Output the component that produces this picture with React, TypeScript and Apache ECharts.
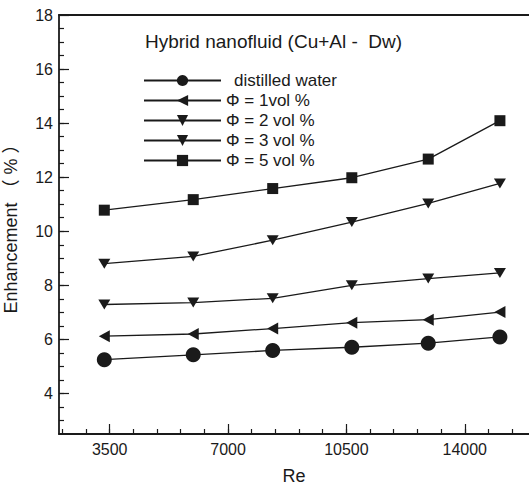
import { useEffect, useRef } from "react";
import * as echarts from "echarts";

// Reynolds numbers of the measured points
const reynolds = [3340, 5970, 8320, 10660, 12920, 15040];

// Enhancement (%) for each fluid
const distilledWater = [5.25, 5.43, 5.59, 5.71, 5.86, 6.09];
const phi1 = [6.12, 6.2, 6.4, 6.62, 6.73, 7.01];
const phi2 = [7.29, 7.36, 7.52, 8.0, 8.25, 8.46];
const phi3 = [8.8, 9.07, 9.67, 10.34, 11.03, 11.77];
const phi5 = [10.78, 11.17, 11.58, 11.98, 12.67, 14.09];

const seriesNames = [
  "distilled water",
  "Φ = 1vol %",
  "Φ = 2 vol %",
  "Φ = 3 vol %",
  "Φ = 5 vol %",
];

const xMajorTicks = [3500, 7000, 10500, 14000];
const yMajorTicks = [4, 6, 8, 10, 12, 14, 16, 18];

const X_MIN = 2000;
const X_MAX = 15900;
const X_MINOR_STEP = 700;
const Y_MIN = 2.5;
const Y_MAX = 18;
const Y_MINOR_STEP = 0.5;

const INK = "#1a1a1a";
const FONT = "'Liberation Sans', Arial, 'Noto Sans CJK SC', sans-serif";

function stepsBetween(min: number, max: number, step: number): number[] {
  const out: number[] = [];
  for (let v = Math.ceil(min / step) * step; v < max; v += step) {
    if (v > min) out.push(Math.round(v * 1000) / 1000);
  }
  return out;
}

const LEFT_TRIANGLE = "path://M0,6L11,0L11,12Z";
const DOWN_TRIANGLE = "path://M0,0L12,0L6,10Z";

export default function App() {
  const ref = useRef<HTMLDivElement>(null);

  useEffect(() => {
    if (!ref.current) return;
    const chart = echarts.init(ref.current, undefined, { renderer: "svg" });

    const xMinor = stepsBetween(X_MIN, X_MAX, X_MINOR_STEP);
    const yMinor = stepsBetween(Y_MIN, Y_MAX, Y_MINOR_STEP);

    const axisLine = { show: true, lineStyle: { color: INK, width: 1.8 } };
    const tickLine = { color: INK, width: 1.2 };
    const labelStyle = { color: INK, fontSize: 16, fontFamily: FONT };

    const values = [distilledWater, phi1, phi2, phi3, phi5];
    const symbols = ["circle", LEFT_TRIANGLE, DOWN_TRIANGLE, DOWN_TRIANGLE, "rect"];
    const sizes: (number | number[])[] = [15, [11, 12], [12, 10], [12, 10], 11];

    const series = values.map((vals, i) => ({
      name: seriesNames[i],
      type: "line",
      xAxisIndex: 0,
      yAxisIndex: 0,
      data: vals.map((v, j) => [reynolds[j], v]),
      symbol: symbols[i],
      symbolSize: sizes[i],
      showAllSymbol: true,
      lineStyle: { color: INK, width: 1.3 },
      itemStyle: { color: INK, borderWidth: 0 },
      z: 3,
    }));

    chart.setOption({
      animation: false,
      backgroundColor: "#ffffff",
      title: {
        text: "Hybrid nanofluid (Cu+Al -  Dw)",
        left: 145,
        top: 32,
        padding: 0,
        textStyle: { color: INK, fontSize: 19, fontWeight: "normal", fontFamily: FONT },
      },
      legend: {
        data: seriesNames.map((n, i) =>
          i === 0 ? { name: n, textStyle: { padding: [0, 0, 0, 8] } } : { name: n }
        ),
        orient: "vertical",
        left: 143,
        top: 72,
        padding: 0,
        itemWidth: 77,
        itemHeight: 14,
        itemGap: 3,
        textStyle: { color: INK, fontSize: 17, fontFamily: FONT },
      },
      grid: {
        left: 59,
        right: 0,
        top: 15,
        bottom: 52,
        containLabel: false,
        outerBoundsMode: "none",
      },
      xAxis: [
        {
          type: "value",
          position: "bottom",
          min: X_MIN,
          max: X_MAX,
          axisLine,
          axisTick: { show: true, inside: true, length: 5, customValues: xMinor, lineStyle: tickLine },
          axisLabel: { show: false },
          splitLine: { show: false },
        },
        {
          type: "value",
          position: "bottom",
          min: X_MIN,
          max: X_MAX,
          axisLine: { show: false },
          axisTick: { show: true, inside: true, length: 10, customValues: xMajorTicks, lineStyle: tickLine },
          axisLabel: {
            ...labelStyle,
            margin: 7,
            customValues: xMajorTicks,
            formatter: (v: number) => String(v),
          },
          splitLine: { show: false },
          name: "Re",
          nameLocation: "middle",
          nameGap: 33,
          nameTextStyle: { color: INK, fontSize: 18, fontFamily: FONT },
        },
        {
          type: "value",
          position: "top",
          min: X_MIN,
          max: X_MAX,
          axisLine,
          axisTick: { show: false },
          axisLabel: { show: false },
          splitLine: { show: false },
        },
      ],
      yAxis: [
        {
          type: "value",
          position: "left",
          min: Y_MIN,
          max: Y_MAX,
          axisLine,
          axisTick: { show: true, inside: true, length: 5, customValues: yMinor, lineStyle: tickLine },
          axisLabel: { show: false },
          splitLine: { show: false },
        },
        {
          type: "value",
          position: "left",
          min: Y_MIN,
          max: Y_MAX,
          axisLine: { show: false },
          axisTick: { show: true, inside: true, length: 10, customValues: yMajorTicks, lineStyle: tickLine },
          axisLabel: {
            ...labelStyle,
            margin: 6,
            customValues: yMajorTicks,
            formatter: (v: number) => String(v),
          },
          splitLine: { show: false },
          name: "Enhancement （ % ）",
          nameLocation: "middle",
          nameGap: 39,
          nameTextStyle: { color: INK, fontSize: 18, fontFamily: FONT },
        },
      ],
      series,
    });

    return () => chart.dispose();
  }, []);

  return (
    <div
      ref={ref}
      style={{ position: "absolute", left: 0, top: 0, width: 529, height: 486 }}
    />
  );
}
